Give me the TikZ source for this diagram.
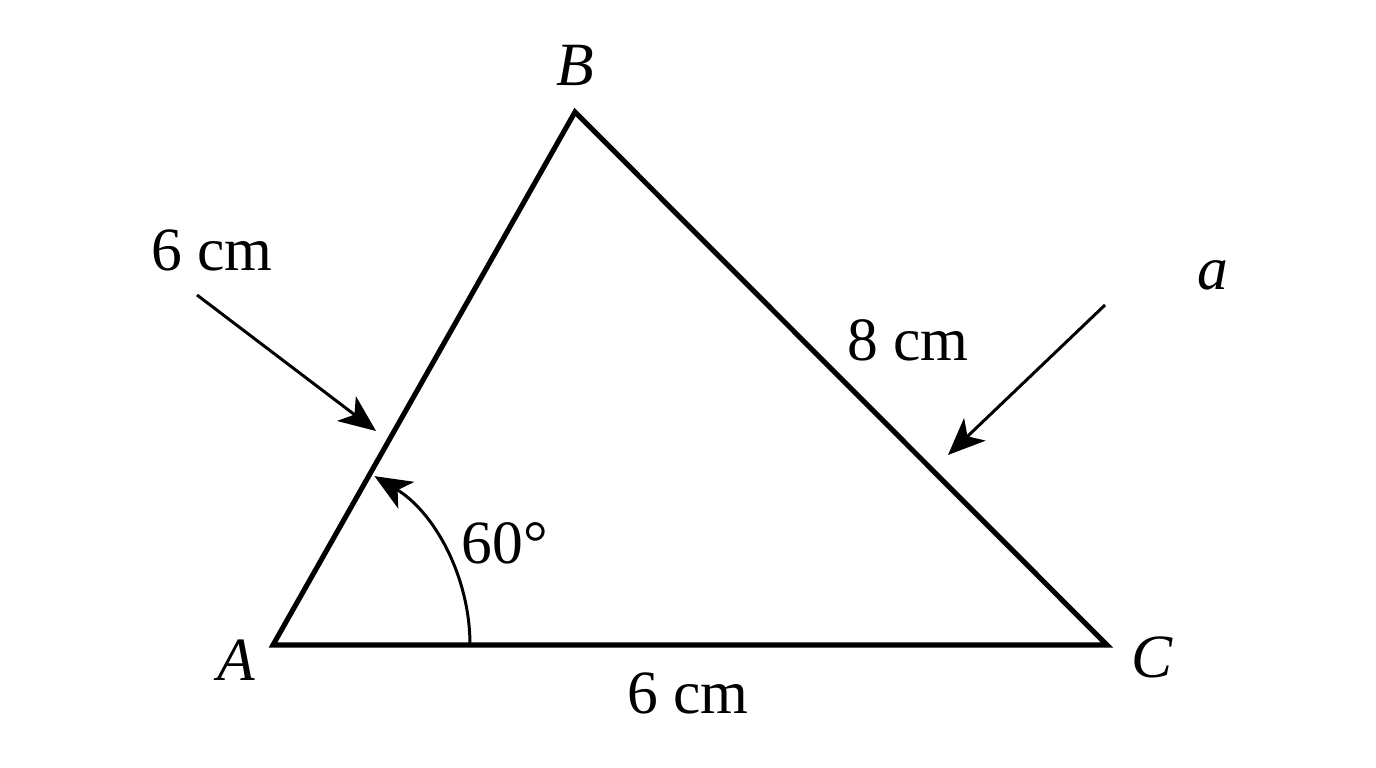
\documentclass[tikz,border=0pt]{standalone}
\usepackage{fontspec}
\setmainfont{Liberation Serif}
\usetikzlibrary{arrows.meta}
\tikzset{
  side/.style={line width=1.45pt, line join=miter},
  pointer/.style={line width=0.85pt, -{Stealth[length=0.37cm, width=0.31cm, inset=0.1cm]}},
  lbl/.style={font=\fontsize{17.5}{20}\selectfont, inner sep=0pt}
}
\begin{document}
\begin{tikzpicture}
\useasboundingbox (0,0) rectangle (13.76,7.68);
% vertices
\coordinate (A) at (2.73,1.23);
\coordinate (B) at (5.75,6.56);
\coordinate (C) at (11.07,1.23);
\draw[side] (A) -- (B) -- (C) -- cycle;
% angle at A
\draw[pointer] ([xshift=1.97cm]A) arc (0:59:1.97);
% arrows to the sides
\coordinate (tailAB) at (1.97,4.73);
\coordinate (tipAB) at (3.76,3.37);
\coordinate (tailBC) at (11.05,4.63);
\coordinate (tipBC) at (9.48,3.13);
\draw[pointer] (tailAB) -- (tipAB);
\draw[pointer] (tailBC) -- (tipBC);
% labels
\node[lbl] (labB) at (5.75,7.03) {\textit{B}};
\node[lbl] (labA) at (2.36,1.08) {\textit{A}};
\node[lbl] (labC) at (11.52,1.11) {\textit{C}};
\node[lbl] (labAB) at (2.12,5.18) {6 cm};
\node[lbl] (laba) at (12.13,4.93) {\textit{a}};
\node[lbl] (labBC) at (9.08,4.28) {8 cm};
\node[lbl] (labang) at (5.05,2.25) {60°};
\node[lbl] (labAC) at (6.88,0.75) {6 cm};
\end{tikzpicture}
\end{document}
